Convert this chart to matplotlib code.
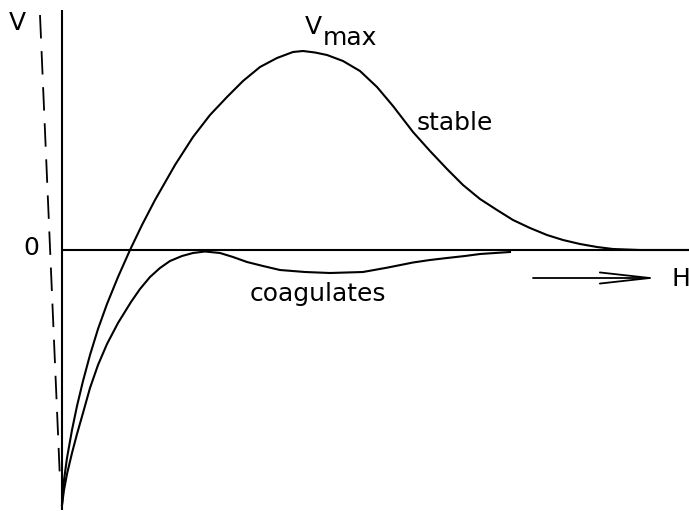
import matplotlib
matplotlib.use("Agg")
import matplotlib.pyplot as plt

# Data (H: distance, V: potential energy; arbitrary units)
stable_H = [0.00, 0.02, 0.05, 0.10, 0.15, 0.21, 0.28, 0.36, 0.45, 0.56, 0.68, 0.80,
            0.93, 1.13, 1.31, 1.48, 1.65, 1.81, 1.98, 2.15, 2.31, 2.41, 2.53, 2.65,
            2.81, 2.98, 3.15, 3.31, 3.51, 3.68, 3.85, 4.01, 4.18, 4.35, 4.51, 4.68,
            4.85, 5.01, 5.18, 5.35, 5.51, 5.78, 6.27]
stable_V = [-2.55, -2.30, -2.08, -1.80, -1.56, -1.31, -1.05, -0.79, -0.54, -0.27, 0.00, 0.25,
            0.50, 0.85, 1.13, 1.35, 1.53, 1.69, 1.83, 1.92, 1.98, 1.99, 1.975, 1.95,
            1.89, 1.79, 1.63, 1.44, 1.18, 0.99, 0.81, 0.65, 0.51, 0.40, 0.30, 0.22,
            0.15, 0.10, 0.06, 0.03, 0.01, 0.00, 0.00]

coag_H = [0.00, 0.02, 0.05, 0.10, 0.15, 0.21, 0.28, 0.36, 0.45, 0.56, 0.69, 0.78,
          0.88, 0.98, 1.08, 1.20, 1.31, 1.43, 1.58, 1.71, 1.85, 2.01, 2.18, 2.43,
          2.68, 3.01, 3.26, 3.51, 3.68, 3.85, 4.03, 4.18, 4.48]
coag_V = [-2.55, -2.40, -2.24, -2.03, -1.84, -1.63, -1.38, -1.15, -0.94, -0.73, -0.52, -0.39,
          -0.27, -0.18, -0.11, -0.06, -0.03, -0.015, -0.03, -0.07, -0.12, -0.16, -0.20, -0.22,
          -0.23, -0.22, -0.175, -0.125, -0.10, -0.08, -0.06, -0.04, -0.02]

dash_H = [-0.22, -0.02]
dash_V = [2.35, -2.30]

vaxis_H = [0.0, 0.0]
vaxis_V = [2.40, -2.60]
haxis_H = [0.0, 6.27]
haxis_V = [0.0, 0.0]

fig = plt.figure(figsize=(6.89, 5.11), dpi=100)
ax = fig.add_axes([0, 0, 1, 1])
ax.set_xlim(-0.62, 6.27)
ax.set_ylim(-2.61, 2.50)
ax.axis("off")

lw = 1.5
ax.plot(vaxis_H, vaxis_V, color="black", lw=lw, solid_capstyle="butt")
ax.plot(haxis_H, haxis_V, color="black", lw=lw, solid_capstyle="butt")
ax.plot(dash_H, dash_V, color="black", lw=1.3, dashes=(13, 7))
ax.plot(stable_H, stable_V, color="black", lw=lw, solid_joinstyle="round")
ax.plot(coag_H, coag_V, color="black", lw=lw, solid_joinstyle="round")

fs = 18
ax.text(-0.45, 2.27, "V", fontsize=fs, ha="center", va="center")
ax.text(-0.31, 0.02, "0", fontsize=fs, ha="center", va="center")
ax.text(2.51, 2.23, "V", fontsize=fs, ha="center", va="center")
ax.text(2.61, 2.05, "max", fontsize=fs, ha="left", va="baseline")
ax.text(3.55, 1.20, "stable", fontsize=fs, ha="left", va="baseline")
ax.text(1.88, -0.51, "coagulates", fontsize=fs, ha="left", va="baseline")
ax.text(6.19, -0.29, "H", fontsize=fs, ha="center", va="center")

ax.annotate("", xy=(5.96, -0.28), xytext=(4.71, -0.28),
            arrowprops=dict(arrowstyle="->,head_length=3.6,head_width=0.4",
                            mutation_scale=10, lw=1.3, color="black",
                            shrinkA=0, shrinkB=0))

fig.savefig("out.png", dpi=100)
